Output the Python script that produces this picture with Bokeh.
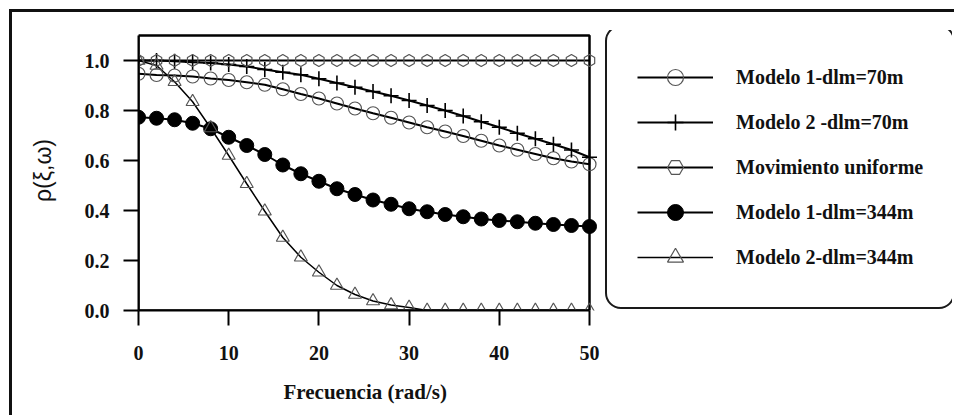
import numpy as np
from bokeh.plotting import figure
from bokeh.models import (Legend, LegendItem, Range1d, FixedTicker, PrintfTickFormatter,
                          BoxAnnotation, Title)
from bokeh.embed import file_html
from bokeh.resources import INLINE

# ---------------- data ----------------
freq = list(range(0, 51, 2))
m1_70 = [0.947, 0.942, 0.940, 0.936, 0.928, 0.922, 0.913, 0.903, 0.885, 0.866,
         0.848, 0.828, 0.808, 0.789, 0.771, 0.752, 0.733, 0.716, 0.698, 0.679,
         0.660, 0.643, 0.626, 0.609, 0.596, 0.585]
m2_70 = [1.000, 1.000, 0.997, 0.993, 0.990, 0.984, 0.976, 0.964, 0.953, 0.943,
         0.927, 0.910, 0.893, 0.876, 0.859, 0.840, 0.820, 0.800, 0.778, 0.755,
         0.733, 0.709, 0.687, 0.665, 0.642, 0.613]
uniforme = [1.0] * 26
m1_344 = [0.773, 0.769, 0.763, 0.749, 0.727, 0.693, 0.660, 0.624, 0.582, 0.547,
          0.517, 0.487, 0.464, 0.442, 0.425, 0.407, 0.395, 0.384, 0.375, 0.366,
          0.360, 0.355, 0.349, 0.344, 0.340, 0.336]
m2_344 = [1.000, 0.980, 0.915, 0.835, 0.730, 0.620, 0.507, 0.397, 0.292, 0.213,
          0.153, 0.100, 0.064, 0.038, 0.022, 0.012, 0.000, 0.000, 0.000, 0.000,
          0.000, 0.000, 0.000, 0.000, 0.000, 0.000]

x_ticks = [0, 10, 20, 30, 40, 50]
y_ticks = [0.0, 0.2, 0.4, 0.6, 0.8, 1.0]
series_labels = ["Modelo 1-dlm=70m", "Modelo 2 -dlm=70m", "Movimiento uniforme",
                 "Modelo 1-dlm=344m", "Modelo 2-dlm=344m"]
x_title = "Frecuencia (rad/s)"
y_title = "ρ(ξ,ω)"

X_MIN, X_MAX = 0, 50
Y_MIN, Y_MAX = 0.0, 1.1

SERIF = "Liberation Serif"
INK = "#111111"

# frame spans the data box plus the legend area to its right
FRAME_W, FRAME_H = 814, 280
DATA_W, DATA_H = 451, 275

p = figure(width=942, height=399, frame_width=FRAME_W, frame_height=FRAME_H,
           output_backend="svg", toolbar_location=None,
           x_range=Range1d(X_MIN, X_MAX * FRAME_W / DATA_W),
           y_range=Range1d(Y_MIN, Y_MAX * FRAME_H / DATA_H),
           min_border_left=126, min_border_right=2,
           min_border_top=18, min_border_bottom=60)
p.styles = {"border-top": "3px solid #111111", "border-left": "3px solid #111111",
            "margin-left": "9px", "margin-top": "9px"}

p.grid.visible = False
p.outline_line_color = None
p.background_fill_color = "white"
p.border_fill_color = "white"

for ax in (p.xaxis[0], p.yaxis[0]):
    ax.major_tick_out = 15
    ax.major_tick_in = 0
    ax.minor_tick_out = 0
    ax.minor_tick_in = 0
    ax.axis_line_width = 2
    ax.axis_line_color = "black"
    ax.major_tick_line_width = 2
    ax.major_tick_line_color = "black"
    ax.major_label_text_font = SERIF
    ax.major_label_text_font_style = "bold"
    ax.major_label_text_font_size = "20px"
    ax.major_label_text_color = INK

p.xaxis.bounds = (X_MIN, X_MAX)
p.yaxis.bounds = (Y_MIN, Y_MAX)
p.xaxis.ticker = FixedTicker(ticks=x_ticks)
p.yaxis.ticker = FixedTicker(ticks=y_ticks)
p.yaxis.formatter = PrintfTickFormatter(format="%.1f")
p.xaxis.major_label_standoff = 20
p.yaxis.major_label_standoff = 14

p.yaxis.axis_label = y_title
p.yaxis.axis_label_text_font = "Liberation Sans"
p.yaxis.axis_label_text_font_style = "normal"
p.yaxis.axis_label_text_font_size = "23px"
p.yaxis.axis_label_text_color = INK
p.yaxis.axis_label_standoff = 26

# x-axis title, centred under the data box (not the whole frame)
p.add_layout(Title(text=x_title, align="left", offset=145, standoff=30,
                   text_font=SERIF, text_font_style="bold", text_font_size="21px",
                   text_color=INK), "below")

# box around the data area
p.add_layout(BoxAnnotation(left=X_MIN, right=X_MAX, bottom=Y_MIN, top=Y_MAX,
                           fill_alpha=0, line_color="black", line_alpha=1,
                           line_width=2.5, level="underlay"))

LW = 2
l1 = p.line(freq, m1_70, line_color="black", line_width=LW)
l2 = p.line(freq, m2_70, line_color="black", line_width=LW)
l3 = p.line(freq, uniforme, line_color="black", line_width=LW)
l4 = p.line(freq, m1_344, line_color="black", line_width=LW)
l5 = p.line(freq, m2_344, line_color="black", line_width=1.5)

s1 = p.scatter(freq, m1_70, marker="circle", size=13, fill_alpha=0,
               line_color="#555555", line_width=1.2)
s2 = p.scatter(freq, m2_70, marker="cross", size=15, line_color="black", line_width=1.6)
s3 = p.scatter(freq, uniforme, marker="hex", size=12, angle=np.pi / 2, fill_alpha=0,
               line_color="#555555", line_width=1.2)
s4 = p.scatter(freq, m1_344, marker="circle", size=14, fill_color="black",
               line_color="black")
s5 = p.scatter(freq, m2_344, marker="triangle", size=13, fill_alpha=0,
               line_color="#555555", line_width=1.2)

items = [LegendItem(label=series_labels[0], renderers=[l1, s1]),
         LegendItem(label=series_labels[1], renderers=[l2, s2]),
         LegendItem(label=series_labels[2], renderers=[l3, s3]),
         LegendItem(label=series_labels[3], renderers=[l4, s4]),
         LegendItem(label=series_labels[4], renderers=[l5, s5])]
legend = Legend(items=items, location=(467, 1), padding=30, margin=0, spacing=5,
                glyph_width=76, glyph_height=40, label_height=40, label_width=184,
                label_standoff=23,
                border_line_color="#1a1a1a", border_line_alpha=1, border_line_width=2,
                border_radius=16,
                background_fill_color="white", background_fill_alpha=1,
                label_text_font=SERIF, label_text_font_style="bold",
                label_text_font_size="20px", label_text_color=INK)
p.add_layout(legend, "center")

open("out.html", "w").write(file_html(p, INLINE))
